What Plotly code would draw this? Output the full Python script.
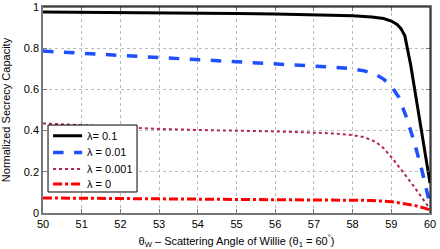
import plotly.graph_objects as go

x_01 = [50, 51, 52, 53, 54, 55, 56, 57, 58, 58.5, 58.8, 59.0, 59.15, 59.25, 59.35, 59.5, 59.7, 59.85, 60]
y_01 = [0.976, 0.975, 0.973, 0.971, 0.970, 0.968, 0.966, 0.963, 0.958, 0.952, 0.944, 0.932, 0.915, 0.895, 0.86, 0.72, 0.49, 0.32, 0.146]

x_001 = [50, 51, 52, 53, 54, 55, 56, 57, 57.5, 58, 58.3, 58.6, 58.8, 59.0, 59.2, 59.4, 59.6, 59.8, 59.9, 60]
y_001 = [0.786, 0.776, 0.767, 0.757, 0.745, 0.735, 0.725, 0.714, 0.708, 0.700, 0.690, 0.672, 0.650, 0.617, 0.560, 0.46, 0.34, 0.20, 0.12, 0.04]

x_0001 = [50, 51, 52, 53, 54, 55, 56, 57, 57.5, 58, 58.3, 58.6, 58.8, 59.0, 59.2, 59.4, 59.6, 59.8, 60]
y_0001 = [0.435, 0.425, 0.415, 0.408, 0.403, 0.400, 0.396, 0.390, 0.386, 0.378, 0.368, 0.345, 0.315, 0.272, 0.225, 0.175, 0.125, 0.075, 0.02]

x_0 = [50, 51, 52, 53, 54, 55, 56, 57, 58, 58.5, 59, 59.3, 59.6, 59.8, 60]
y_0 = [0.073, 0.072, 0.071, 0.070, 0.069, 0.068, 0.067, 0.066, 0.064, 0.061, 0.055, 0.047, 0.037, 0.027, 0.015]

names = ["λ= 0.1", "λ = 0.01", "λ = 0.001", "λ = 0"]
x_ticks = list(range(50, 61))
y_ticks = [0, 0.2, 0.4, 0.6, 0.8, 1]
y_tick_text = ["0", "0.2", "0.4", "0.6", "0.8", "1"]

styles = [
    dict(color="black", width=3, dash="solid"),
    dict(color="#1f4fff", width=3.5, dash="dash"),
    dict(color="#b0284a", width=2, dash="dot"),
    dict(color="#ff0000", width=3, dash="dashdot"),
]

fig = go.Figure()
for xs, ys, nm, st in zip([x_01, x_001, x_0001, x_0], [y_01, y_001, y_0001, y_0], names, styles):
    fig.add_trace(go.Scatter(x=xs, y=ys, mode="lines", name=nm, line=st, showlegend=False))

# top and right frame lines in black
fig.add_shape(type="line", xref="paper", yref="paper", x0=0, x1=1, y0=1, y1=1,
              line=dict(color="black", width=1), layer="above")
fig.add_shape(type="line", xref="paper", yref="paper", x0=1, x1=1, y0=0, y1=1,
              line=dict(color="black", width=1), layer="above")

# custom legend box (paper coords relative to plot area)
fig.add_shape(type="rect", xref="paper", yref="paper", x0=0.013, x1=0.243, y0=0.102, y1=0.427,
              line=dict(color="black", width=1), fillcolor="white", layer="above")
entry_y = [0.375, 0.294, 0.214, 0.141]
for ey, nm, st in zip(entry_y, names, styles):
    fig.add_shape(type="line", xref="paper", yref="paper", x0=0.026, x1=0.101, y0=ey, y1=ey,
                  line=st, layer="above")
    fig.add_annotation(xref="paper", yref="paper", x=0.109, y=ey, text=nm, showarrow=False,
                       xanchor="left", yanchor="middle", font=dict(size=11))

font = "Liberation Sans, Arial, sans-serif"
fig.update_layout(
    width=440, height=249, autosize=False,
    margin=dict(l=43, r=10, t=7, b=36, autoexpand=False),
    paper_bgcolor="white", plot_bgcolor="white",
    font=dict(family=font, size=11, color="black"),
    showlegend=False,
    xaxis=dict(range=[50, 60], tickvals=x_ticks, ticks="inside", ticklen=4, automargin=False,
               tickcolor="#777", showline=True, linecolor="#777", linewidth=1.5, mirror="ticks",
               showgrid=True, gridcolor="#bbbbbb", griddash="dot", gridwidth=1,
               zeroline=False,
               title=dict(text="θ<sub>W</sub> – Scattering Angle of Willie (θ<sub>1</sub> = 60<sup>°</sup>)",
                          font=dict(size=11))),
    yaxis=dict(range=[0, 1], tickvals=y_ticks, ticktext=y_tick_text, ticks="inside", ticklen=4, automargin=False,
               tickcolor="#777", showline=True, linecolor="#777", linewidth=1.5, mirror="ticks",
               showgrid=True, gridcolor="#bbbbbb", griddash="dot", gridwidth=1,
               zeroline=False,
               title=dict(text="Normalized Secrecy Capacity", font=dict(size=11))),
)
fig.write_html("out.html", config={"displayModeBar": False},
               post_script="document.body.style.margin='0';")
